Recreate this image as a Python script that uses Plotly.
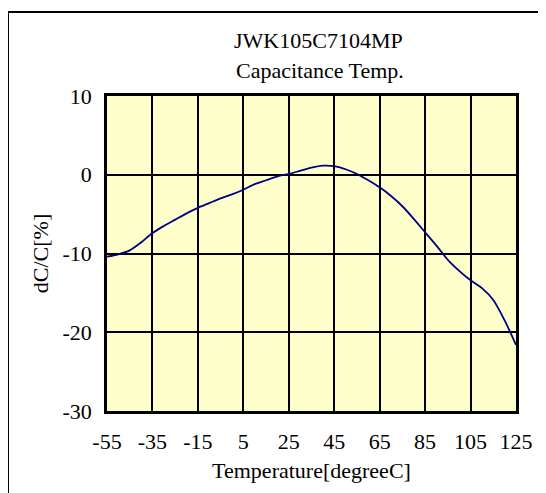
import plotly.graph_objects as go

temperature = [-55, -50, -45, -40, -35, -30, -25, -20, -15, -10, -5, 0, 5, 10, 15, 20, 25, 30,
               35, 40, 45, 50, 55, 60, 65, 70, 75, 80, 85, 90, 95, 100, 105, 110, 115, 120, 125]
dc_percent = [-10.4, -10.1, -9.6, -8.6, -7.4, -6.5, -5.7, -4.9, -4.2, -3.6, -3.0, -2.5, -1.9,
              -1.2, -0.7, -0.2, 0.1, 0.5, 0.9, 1.15, 1.1, 0.7, 0.1, -0.7, -1.6, -2.7, -4.0,
              -5.6, -7.3, -9.0, -10.8, -12.2, -13.4, -14.4, -15.9, -18.5, -21.6]
x_ticks = [-55, -35, -15, 5, 25, 45, 65, 85, 105, 125]
y_ticks = [-30, -20, -10, 0, 10]
title_lines = ["JWK105C7104MP", "Capacitance Temp."]

FONT = "Liberation Serif"
FS = 22

fig = go.Figure()
fig.add_trace(go.Scatter(
    x=temperature, y=dc_percent, mode="lines",
    line=dict(color="#000080", width=1.8, shape="spline", smoothing=0.8),
    showlegend=False, hoverinfo="skip",
))

W, H = 546, 493
# window offset of the figure (page body margin)
OFF = 8
# plot area in window pixels
PL, PR, PT, PB = 107, 516, 96, 411
ml, mt = PL - OFF, PT - OFF
mr = W - ml - (PR - PL)
mb = H - mt - (PB - PT)

def px2x(px):
    return (px - PL) / (PR - PL)

def py2y(py):
    return (PB - py) / (PB - PT)

fig.update_layout(
    width=W, height=H,
    margin=dict(l=ml, r=mr, t=mt, b=mb),
    paper_bgcolor="white",
    plot_bgcolor="#FFFFCC",
    font=dict(family=FONT, color="black", size=FS),
    xaxis=dict(
        range=[-55, 125], tickvals=x_ticks, ticktext=[str(v) for v in x_ticks],
        showgrid=True, gridcolor="black", gridwidth=2,
        showline=True, linecolor="black", linewidth=2.5, mirror=True,
        ticks="", zeroline=False, ticklabelstandoff=9,
        tickfont=dict(size=FS),
        title=dict(text="Temperature[degreeC]", font=dict(size=FS), standoff=10),
    ),
    yaxis=dict(
        range=[-30, 10], tickvals=y_ticks, ticktext=[str(v) for v in y_ticks],
        showgrid=True, gridcolor="black", gridwidth=2,
        showline=True, linecolor="black", linewidth=2.5, mirror=True,
        ticks="", zeroline=False, ticklabelstandoff=8,
        tickfont=dict(size=FS),
        title=dict(text="dC/C[%]", font=dict(size=FS), standoff=8),
    ),
    shapes=[dict(
        type="rect", xref="paper", yref="paper",
        x0=px2x(8), x1=px2x(580), y0=py2y(12), y1=py2y(540),
        line=dict(color="black", width=2), fillcolor="rgba(0,0,0,0)", layer="below",
    )],
    annotations=[
        dict(text=title_lines[0], xref="paper", yref="paper", x=px2x(318), y=py2y(41),
             showarrow=False, font=dict(size=FS), xanchor="center", yanchor="middle"),
        dict(text=title_lines[1], xref="paper", yref="paper", x=px2x(320), y=py2y(70),
             showarrow=False, font=dict(size=FS), xanchor="center", yanchor="middle"),
    ],
)

fig.write_html("out.html")
